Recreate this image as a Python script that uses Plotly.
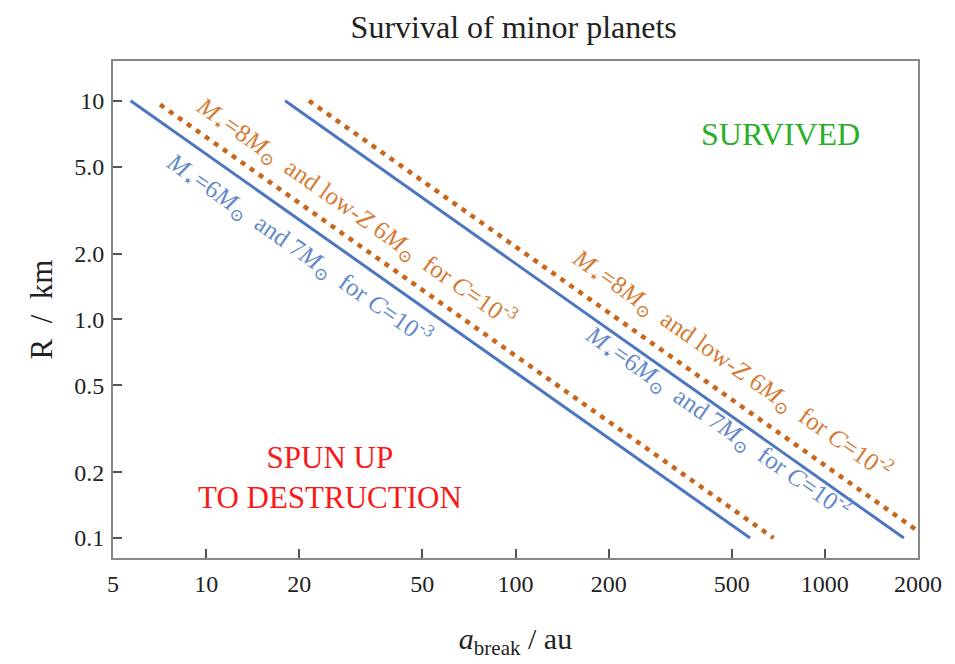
import numpy as np
import plotly.graph_objects as go

# Data: endpoints of the survival boundaries (R ∝ 1/a)
blue_lo_a = [5.7, 573]
blue_lo_R = [10, 0.1]
orange_lo_a = [7.1, 682]
orange_lo_R = [9.6, 0.1]
blue_hi_a = [18.0, 1800]
blue_hi_R = [10, 0.1]
orange_hi_a = [21.5, 2150]
orange_hi_R = [10, 0.1]

x_ticks = [5, 10, 20, 50, 100, 200, 500, 1000, 2000]
x_ticklabels = ["5", "10", "20", "50", "100", "200", "500", "1000", "2000"]
y_ticks = [0.1, 0.2, 0.5, 1.0, 2.0, 5.0, 10]
y_ticklabels = ["0.1", "0.2", "0.5", "1.0", "2.0", "5.0", "10"]

BLUE = "rgb(78,118,190)"
ORANGE = "rgb(200,102,28)"
BLUE_T = "rgb(98,136,202)"
ORANGE_T = "rgb(212,122,50)"
SERIF = "Liberation Serif, DejaVu Serif, serif"

fig = go.Figure()
fig.add_trace(go.Scatter(x=blue_lo_a, y=blue_lo_R, mode="lines",
                         line=dict(color=BLUE, width=3)))
fig.add_trace(go.Scatter(x=orange_lo_a, y=orange_lo_R, mode="lines",
                         line=dict(color=ORANGE, width=4.5, dash="5px,6px")))
fig.add_trace(go.Scatter(x=blue_hi_a, y=blue_hi_R, mode="lines",
                         line=dict(color=BLUE, width=3)))
fig.add_trace(go.Scatter(x=orange_hi_a, y=orange_hi_R, mode="lines",
                         line=dict(color=ORANGE, width=4.5, dash="5px,6px")))

SP = "&nbsp;&nbsp;"
lab_or = ("<i>M</i><sub>⋆</sub>=8<i>M</i><sub>⊙</sub>" + SP + "and low-<i>Z</i> "
          "6<i>M</i><sub>⊙</sub>" + SP + "for <i>C</i>=10<sup>-%s</sup>")
lab_bl = ("<i>M</i><sub>⋆</sub>=6<i>M</i><sub>⊙</sub>" + SP + "and "
          "7<i>M</i><sub>⊙</sub>" + SP + "for <i>C</i>=10<sup>-%s</sup>")

annots = [
    (1.484, 0.490, lab_or % "3", ORANGE_T),
    (1.300, 0.322, lab_bl % "3", BLUE_T),
    (2.700, -0.205, lab_or % "2", ORANGE_T),
    (2.655, -0.470, lab_bl % "2", BLUE_T),
]
for x, y, t, c in annots:
    fig.add_annotation(x=x, y=y, xref="x", yref="y", text=t, showarrow=False,
                       textangle=35, font=dict(family=SERIF, size=25, color=c))

fig.add_annotation(x=np.log10(720), y=np.log10(7.07), xref="x", yref="y",
                   text="SURVIVED", showarrow=False,
                   font=dict(family=SERIF, size=32, color="rgb(40,175,40)"))
fig.add_annotation(x=np.log10(25.1), y=np.log10(0.19), xref="x", yref="y",
                   text="SPUN UP<br>TO DESTRUCTION", showarrow=False,
                   font=dict(family=SERIF, size=31, color="rgb(250,25,25)"))

axis_common = dict(type="log", showgrid=False, zeroline=False, ticks="inside",
                   ticklen=9, tickwidth=1.5, tickcolor="#555", showline=True,
                   linecolor="#888", linewidth=2, mirror=True,
                   tickfont=dict(family=SERIF, size=24, color="#222"))

fig.update_xaxes(**axis_common, range=[np.log10(5), np.log10(2000)],
                 tickvals=x_ticks, ticktext=x_ticklabels, ticklabelstandoff=3,
                 title=dict(text="<i>a</i><sub>break</sub>&nbsp;/&nbsp;au", standoff=32,
                            font=dict(family=SERIF, size=30, color="#222")))
fig.update_yaxes(**axis_common, range=[np.log10(0.081), np.log10(15.2)],
                 tickvals=y_ticks, ticktext=y_ticklabels, ticklabelstandoff=2,
                 title=dict(text="R&nbsp;&nbsp;/&nbsp;&nbsp;km", standoff=12,
                            font=dict(family=SERIF, size=31, color="#222")))

# page body has an 8px margin; size/margins compensate so the plot area
# lands at x 113-918, y 61-558 in the window
fig.update_layout(
    width=947, height=656,
    margin=dict(l=105, r=37, t=53, b=106),
    paper_bgcolor="white", plot_bgcolor="white",
    showlegend=False,
    title=dict(text="Survival of minor planets", x=0.534, xanchor="center",
               y=0.971, yanchor="middle",
               font=dict(family=SERIF, size=32, color="#222")),
)

fig.write_html("out.html")
